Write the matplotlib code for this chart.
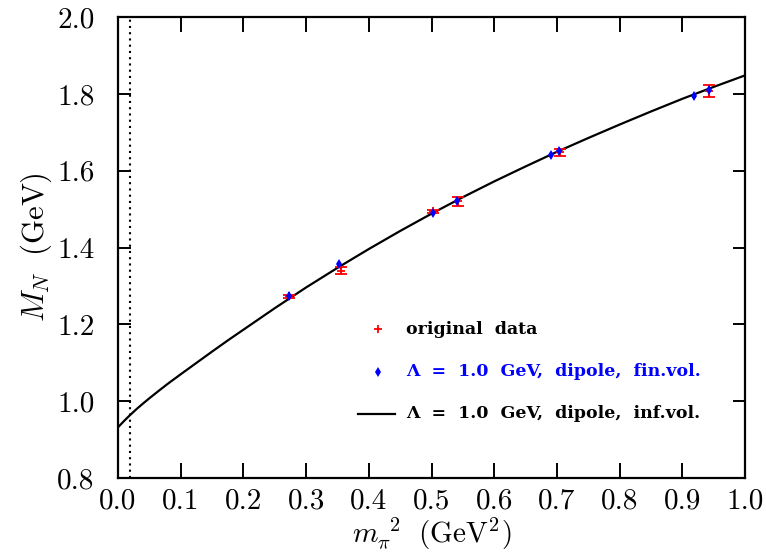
import matplotlib
matplotlib.use("Agg")
import matplotlib.pyplot as plt
import numpy as np

# Curve (infinite volume fit)
curve_x = [0.0, 0.01, 0.02, 0.03, 0.04, 0.05, 0.065, 0.08, 0.1, 0.125, 0.15, 0.175,
           0.2, 0.25, 0.3, 0.35, 0.4, 0.45, 0.5, 0.55, 0.6, 0.65, 0.7, 0.75, 0.8,
           0.85, 0.9, 0.95, 1.0]
curve_y = [0.932, 0.949, 0.965, 0.980, 0.994, 1.0075, 1.027, 1.046, 1.070, 1.0995,
           1.129, 1.158, 1.186, 1.242, 1.296, 1.347, 1.396, 1.443, 1.488, 1.531,
           1.572, 1.611, 1.649, 1.685, 1.720, 1.754, 1.787, 1.818, 1.848]

# Finite volume points (blue)
fin_x = [0.272, 0.353, 0.503, 0.540, 0.690, 0.704, 0.918, 0.942]
fin_y = [1.274, 1.357, 1.489, 1.522, 1.641, 1.652, 1.795, 1.811]

# Original data (red)
orig_x = [0.272, 0.355, 0.503, 0.542, 0.705, 0.943]
orig_y = [1.273, 1.340, 1.494, 1.520, 1.648, 1.807]
orig_err = [0.004, 0.008, 0.004, 0.011, 0.009, 0.016]

phys_mpi2 = 0.0196

xticks = [0.0, 0.1, 0.2, 0.3, 0.4, 0.5, 0.6, 0.7, 0.8, 0.9, 1.0]
yticks = [0.8, 1.0, 1.2, 1.4, 1.6, 1.8, 2.0]

plt.rcParams['mathtext.fontset'] = 'cm'
plt.rcParams['axes.formatter.use_mathtext'] = True

fig = plt.figure(figsize=(7.66, 5.55), dpi=100)
ax = fig.add_axes([118/766, 77/555, 627/766, 461/555])

ax.plot(curve_x, curve_y, color='black', lw=1.6, zorder=2)
ax.axvline(phys_mpi2, color='black', lw=1.5, ls=(0, (1, 2)), zorder=1)
ax.errorbar(orig_x, orig_y, yerr=orig_err, fmt='+', color='red', ms=6, mew=1.3,
            elinewidth=1.5, capsize=4, capthick=1.5, zorder=3)
ax.plot(fin_x, fin_y, 'd', color='blue', ms=5, mew=0, zorder=4)

ax.set_xlim(0.0, 1.0)
ax.set_ylim(0.8, 2.0)
ax.set_xticks(xticks)
ax.set_yticks(yticks)
ax.set_xticklabels([f"{v:.1f}" for v in xticks], fontfamily='cmr10', fontsize=21)
ax.set_yticklabels([f"{v:.1f}" for v in yticks], fontfamily='cmr10', fontsize=21)
ax.tick_params(axis='x', direction='in', length=11, width=1.4, top=True, pad=7)
ax.tick_params(axis='y', direction='in', length=9, width=1.4, right=True, pad=17)
for s in ax.spines.values():
    s.set_linewidth(1.6)

ax.set_xlabel(r'$m_{\pi}^{\;\;2}\ \ \mathrm{(GeV^2)}$', fontsize=21, labelpad=1)
ax.set_ylabel(r'$M_N\ \ \mathrm{(GeV)}$', fontsize=22, labelpad=2)

# Legend (manual)
tr = ax.transAxes
def ax_pt(px, py):
    return ((px - 118) / 627, (478 - py) / 461)

lfont = dict(family='DejaVu Serif', weight='bold', size=12.5)
x0, y0 = ax_pt(378, 329)
ax.plot([x0], [y0], '+', color='red', ms=6, mew=1.3, transform=tr, clip_on=False)
xt, _ = ax_pt(406, 0)
ax.text(xt, y0, 'original  data', transform=tr, fontdict=lfont,
        va='center', ha='left', color='black')
x1, y1 = ax_pt(378, 372)
ax.plot([x1], [y1], 'd', color='blue', ms=5, mew=0, transform=tr, clip_on=False)
ax.text(xt, y1, 'Λ  =  1.0  GeV,  dipole,  fin.vol.', transform=tr,
        fontdict=lfont, va='center', ha='left', color='blue')
xa, y2 = ax_pt(358, 414)
xb, _ = ax_pt(395, 414)
ax.plot([xa, xb], [y2, y2], color='black', lw=1.6, transform=tr, clip_on=False)
ax.text(xt, y2, 'Λ  =  1.0  GeV,  dipole,  inf.vol.', transform=tr,
        fontdict=lfont, va='center', ha='left', color='black')

fig.savefig('out.png', dpi=100)
